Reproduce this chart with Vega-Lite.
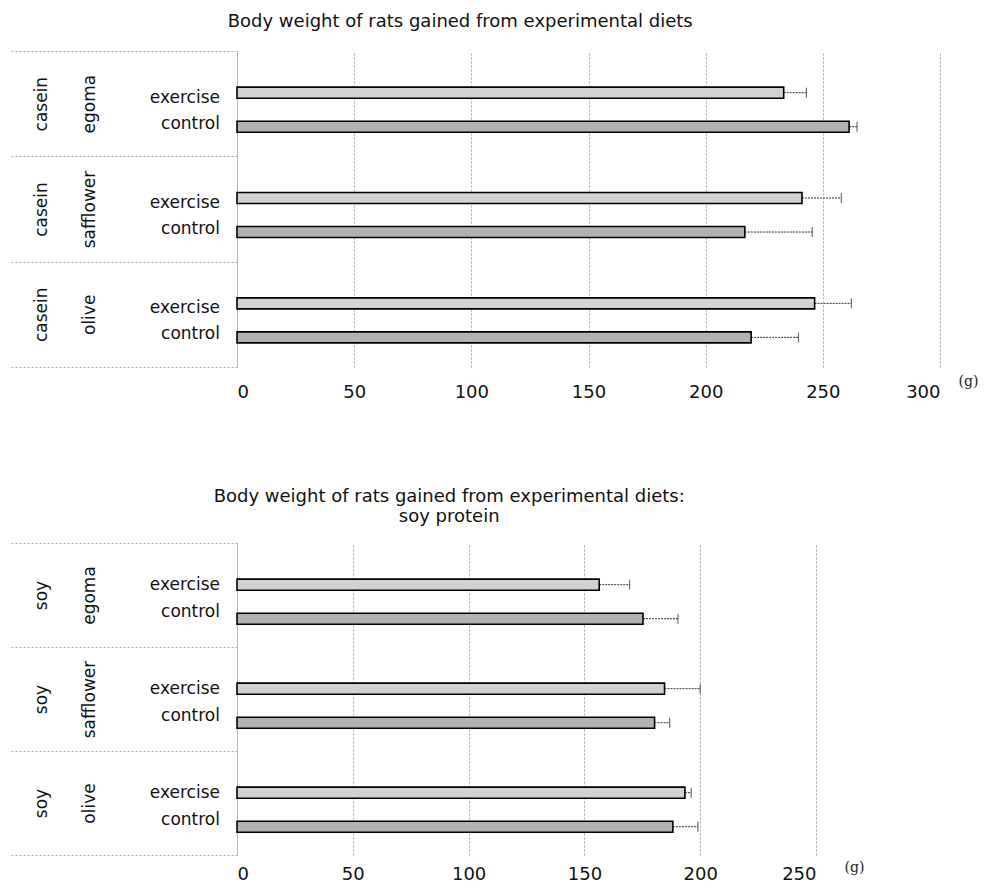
{
  "$schema": "https://vega.github.io/schema/vega-lite/v6.json",
  "padding": {"left": 8, "top": 12, "right": 4, "bottom": 4},
  "background": "white",
  "config": {
    "view": {"stroke": null},
    "font": "DejaVu Sans",
    "title": {"font": "DejaVu Sans", "fontSize": 18, "fontWeight": "normal", "color": "#111", "lineHeight": 20, "frame": "bounds", "anchor": "middle"}
  },
  "spacing": 86,
  "vconcat": [
    {
      "title": {"text": "Body weight of rats gained from experimental diets", "offset": 20, "dx": -33},
      "width": 703,
      "height": 316,
      "data": {"values": [
        {"group": "casein|egoma", "condition": "exercise", "value": 233.3, "upper": 243.0},
        {"group": "casein|egoma", "condition": "control", "value": 261.2, "upper": 264.6},
        {"group": "casein|safflower", "condition": "exercise", "value": 241.1, "upper": 257.9},
        {"group": "casein|safflower", "condition": "control", "value": 216.7, "upper": 245.5},
        {"group": "casein|olive", "condition": "exercise", "value": 246.5, "upper": 262.2},
        {"group": "casein|olive", "condition": "control", "value": 219.4, "upper": 239.6}
      ]},
      "encoding": {
        "y": {
          "field": "group", "type": "nominal",
          "sort": ["casein|egoma", "casein|safflower", "casein|olive"],
          "scale": {"paddingInner": 0, "paddingOuter": 0},
          "axis": {
            "title": null,
            "labelExpr": "split(datum.label, '|')",
            "labelAngle": 270,
            "labelAlign": "center",
            "labelBaseline": "middle",
            "labelFont": "DejaVu Sans",
            "labelFontSize": 17,
            "labelLineHeight": 48,
            "labelColor": "#111",
            "labelPadding": -32,
            "labelLimit": 300,
            "tickBand": "extent",
            "tickSize": 228,
            "tickColor": "#aaa",
            "tickDash": [2, 2],
            "tickWidth": 1,
            "domainColor": "#aaa",
            "domainDash": [2, 2]
          }
        },
        "yOffset": {
          "field": "condition", "type": "nominal",
          "sort": ["exercise", "control"],
          "scale": {"paddingInner": 0.676, "paddingOuter": 0.886, "align": 0.6}
        },
        "x": {
          "field": "value", "type": "quantitative",
          "scale": {"domain": [0, 300], "nice": false},
          "axis": {
            "values": [0, 50, 100, 150, 200, 250, 300],
            "title": "(g)",
            "titleFont": "DejaVu Serif",
            "titleFontSize": 14,
            "titleFontWeight": "normal",
            "titleColor": "#222",
            "titleAnchor": "start",
            "titleAlign": "left",
            "titleBaseline": "middle",
            "titleX": 721,
            "titleY": 14,
            "domain": false,
            "ticks": false,
            "labelFont": "DejaVu Sans",
            "labelFontSize": 18,
            "labelColor": "#111",
            "labelPadding": 16,
            "grid": true,
            "gridColor": "#aaa",
            "gridDash": [2, 2]
          }
        }
      },
      "layer": [
        {
          "mark": {"type": "rule", "color": "#333", "strokeDash": [2, 1], "strokeWidth": 1},
          "encoding": {"x2": {"field": "upper"}}
        },
        {
          "mark": {"type": "bar", "stroke": "#000", "strokeWidth": 1.6},
          "encoding": {
            "fill": {
              "field": "condition", "type": "nominal",
              "scale": {"domain": ["exercise", "control"], "range": ["#d2d2d2", "#b2b2b2"]},
              "legend": null
            }
          }
        },
        {
          "mark": {"type": "tick", "orient": "vertical", "size": 10, "thickness": 1.2, "color": "#333"},
          "encoding": {"x": {"field": "upper", "type": "quantitative"}}
        },
        {
          "transform": [{"filter": "datum.condition === 'exercise'"}],
          "mark": {"type": "text", "align": "right", "baseline": "middle", "dx": -17, "dy": 5, "font": "DejaVu Sans", "fontSize": 17, "color": "#111"},
          "encoding": {"x": {"datum": 0}, "text": {"field": "condition"}}
        },
        {
          "transform": [{"filter": "datum.condition === 'control'"}],
          "mark": {"type": "text", "align": "right", "baseline": "middle", "dx": -17, "dy": -3, "font": "DejaVu Sans", "fontSize": 17, "color": "#111"},
          "encoding": {"x": {"datum": 0}, "text": {"field": "condition"}}
        }
      ]
    },
    {
      "title": {"text": ["Body weight of rats gained from experimental diets:", "soy protein"], "offset": 17, "dx": 13},
      "width": 579,
      "height": 312,
      "data": {"values": [
        {"group": "soy|egoma", "condition": "exercise", "value": 156.4, "upper": 169.5},
        {"group": "soy|egoma", "condition": "control", "value": 175.3, "upper": 190.4},
        {"group": "soy|safflower", "condition": "exercise", "value": 184.6, "upper": 200.0},
        {"group": "soy|safflower", "condition": "control", "value": 180.3, "upper": 186.8},
        {"group": "soy|olive", "condition": "exercise", "value": 193.4, "upper": 196.1},
        {"group": "soy|olive", "condition": "control", "value": 188.2, "upper": 199.0}
      ]},
      "encoding": {
        "y": {
          "field": "group", "type": "nominal",
          "sort": ["soy|egoma", "soy|safflower", "soy|olive"],
          "scale": {"paddingInner": 0, "paddingOuter": 0},
          "axis": {
            "title": null,
            "labelExpr": "split(datum.label, '|')",
            "labelAngle": 270,
            "labelAlign": "center",
            "labelBaseline": "middle",
            "labelFont": "DejaVu Sans",
            "labelFontSize": 17,
            "labelLineHeight": 48,
            "labelColor": "#111",
            "labelPadding": -32,
            "labelLimit": 300,
            "tickBand": "extent",
            "tickSize": 228,
            "tickColor": "#aaa",
            "tickDash": [2, 2],
            "tickWidth": 1,
            "domainColor": "#aaa",
            "domainDash": [2, 2]
          }
        },
        "yOffset": {
          "field": "condition", "type": "nominal",
          "sort": ["exercise", "control"],
          "scale": {"paddingInner": 0.667, "paddingOuter": 0.778, "align": 0.66}
        },
        "x": {
          "field": "value", "type": "quantitative",
          "scale": {"domain": [0, 250], "nice": false},
          "axis": {
            "values": [0, 50, 100, 150, 200, 250],
            "title": "(g)",
            "titleFont": "DejaVu Serif",
            "titleFontSize": 14,
            "titleFontWeight": "normal",
            "titleColor": "#222",
            "titleAnchor": "start",
            "titleAlign": "left",
            "titleBaseline": "middle",
            "titleX": 607,
            "titleY": 12,
            "domain": false,
            "ticks": false,
            "labelFont": "DejaVu Sans",
            "labelFontSize": 18,
            "labelColor": "#111",
            "labelPadding": 10,
            "grid": true,
            "gridColor": "#aaa",
            "gridDash": [2, 2]
          }
        }
      },
      "layer": [
        {
          "mark": {"type": "rule", "color": "#333", "strokeDash": [2, 1], "strokeWidth": 1},
          "encoding": {"x2": {"field": "upper"}}
        },
        {
          "mark": {"type": "bar", "stroke": "#000", "strokeWidth": 1.6},
          "encoding": {
            "fill": {
              "field": "condition", "type": "nominal",
              "scale": {"domain": ["exercise", "control"], "range": ["#d2d2d2", "#b2b2b2"]},
              "legend": null
            }
          }
        },
        {
          "mark": {"type": "tick", "orient": "vertical", "size": 10, "thickness": 1.2, "color": "#333"},
          "encoding": {"x": {"field": "upper", "type": "quantitative"}}
        },
        {
          "transform": [{"filter": "datum.condition === 'exercise'"}],
          "mark": {"type": "text", "align": "right", "baseline": "middle", "dx": -17, "dy": 0, "font": "DejaVu Sans", "fontSize": 17, "color": "#111"},
          "encoding": {"x": {"datum": 0}, "text": {"field": "condition"}}
        },
        {
          "transform": [{"filter": "datum.condition === 'control'"}],
          "mark": {"type": "text", "align": "right", "baseline": "middle", "dx": -17, "dy": -7, "font": "DejaVu Sans", "fontSize": 17, "color": "#111"},
          "encoding": {"x": {"datum": 0}, "text": {"field": "condition"}}
        }
      ]
    }
  ]
}
